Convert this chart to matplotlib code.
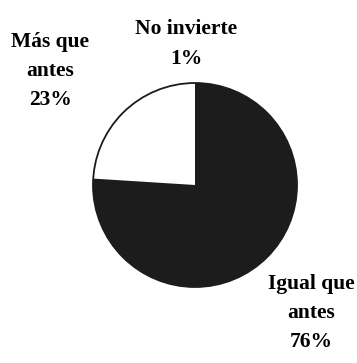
import matplotlib
matplotlib.use("Agg")
import matplotlib.pyplot as plt
from matplotlib.patches import Circle

# Inversión respecto al año anterior
categorias = ["No invierte", "Más que antes", "Igual que antes"]
porcentajes = [1, 23, 76]
etiquetas = ["No invierte\n1%", "Más que\nantes\n23%", "Igual que\nantes\n76%"]
colores = ["white", "white", "#1c1c1c"]

W, H = 357, 363
fig = plt.figure(figsize=(W / 100, H / 100), dpi=100)
ax = fig.add_axes([0, 0, 1, 1])

centro = (195, H - 185)
radio = 102
ax.pie(porcentajes, colors=colores, startangle=90, counterclock=True,
       center=centro, radius=radio, frame=True,
       wedgeprops=dict(linewidth=0))
# contorno del círculo
ax.add_patch(Circle(centro, radio, fill=False, edgecolor="#1c1c1c", linewidth=1.3))
ax.set_xlim(0, W)
ax.set_ylim(0, H)
ax.set_aspect("equal")
ax.axis("off")

fuente = dict(family="Liberation Serif", fontweight="bold", fontsize=15.5,
              ha="center", va="center", linespacing=1.6, color="black")
posiciones = [(186, H - 44), (50, H - 71), (311, H - 313)]
for texto, (x, y) in zip(etiquetas, posiciones):
    ax.text(x, y, texto, **fuente)

fig.savefig("out.png", dpi=100, facecolor="white")
